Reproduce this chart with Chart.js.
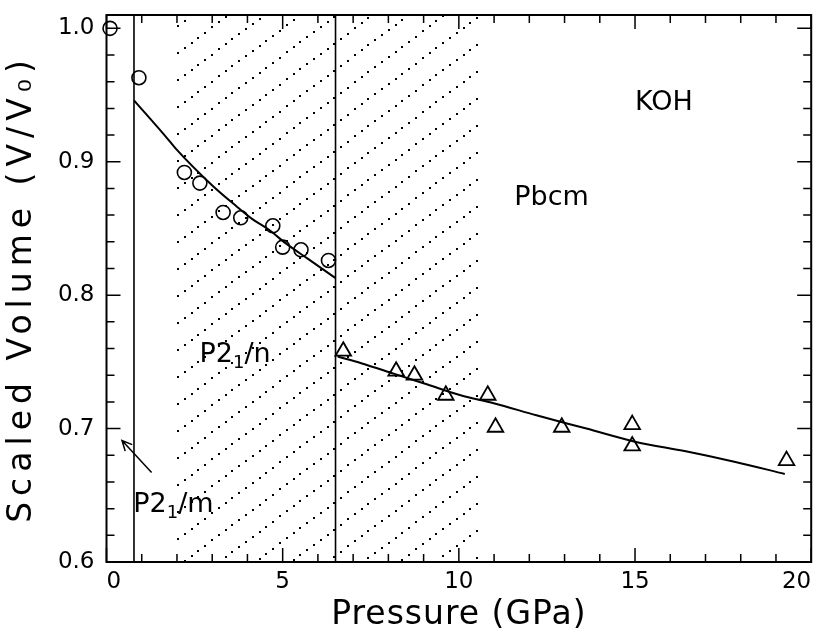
<!DOCTYPE html>
<html>
<head>
<meta charset="utf-8">
<script src="https://cdn.jsdelivr.net/npm/chart.js@4.4.1/dist/chart.umd.min.js"></script>
<style>
html, body { margin: 0; padding: 0; background: #fff; }
</style>
</head>
<body>
<canvas id="chart_koh" width="822" height="635"></canvas>
<script>
// measured points, P2_1/n (circles) and Pbcm (triangles)
var p21n_pressure = [0.1, 0.92, 2.21, 2.65, 3.31, 3.81, 4.72, 5.0, 5.52, 6.3];
var p21n_volume   = [1.0, 0.963, 0.892, 0.884, 0.862, 0.858, 0.852, 0.836, 0.834, 0.826];
var pbcm_pressure = [6.72, 8.22, 8.74, 9.63, 10.82, 11.04, 12.92, 14.92, 14.92, 19.3];
var pbcm_volume   = [0.758, 0.743, 0.740, 0.725, 0.725, 0.701, 0.701, 0.703, 0.687, 0.676];

// fitted curves
var fit1_pressure = [0.78, 1.74, 1.96, 3.01, 3.67, 4.14, 4.61, 5.08, 5.73, 6.49];
var fit1_volume   = [0.946, 0.917, 0.910, 0.882, 0.867, 0.857, 0.849, 0.839, 0.827, 0.813];
var fit2_pressure = [6.56, 7.23, 8.17, 9.11, 10.05, 10.99, 12.2, 13.62, 15.03, 16.44, 17.85, 19.25];
var fit2_volume   = [0.754, 0.749, 0.741, 0.733, 0.725, 0.719, 0.710, 0.700, 0.690, 0.683, 0.675, 0.666];

// phase boundaries and the hatched (mixed) region
var boundaries = [0.78, 6.5];
var hatch_range = [2.0, 10.7];

var x_range = [0, 20];
var y_range = [0.6, 1.01];
var x_tick_values = [0, 5, 10, 15, 20];
var x_tick_labels = ['0', '5', '10', '15', '20'];
var y_tick_values = [0.6, 0.7, 0.8, 0.9, 1.0];
var y_tick_labels = ['0.6', '0.7', '0.8', '0.9', '1.0'];

var FONT = '"DejaVu Sans", sans-serif';

function pts(xs, ys) {
	return xs.map(function(x, i){ return {x: x, y: ys[i]}; });
}
function majorIndex(list, v) {
	for (var i = 0; i < list.length; i++) {
		if (Math.abs(list[i] - v) < 1e-6) return i;
	}
	return -1;
}

// dotted diagonal hatching between the two pressures of hatch_range
var hatchRegion = {
	id: 'hatchRegion',
	beforeDatasetsDraw: function(chart) {
		var ctx = chart.ctx, a = chart.chartArea;
		var xs = chart.scales.x;
		var xl = xs.getPixelForValue(hatch_range[0]);
		var xr = xs.getPixelForValue(hatch_range[1]);
		var w = xr - xl, gap = 27, step = 8.5;
		var ang = Math.atan(0.75), dx = Math.cos(ang) * step, dy = Math.sin(ang) * step;
		ctx.save();
		ctx.fillStyle = '#000';
		for (var y0 = a.top + 11; y0 < a.bottom + 0.75 * w + gap; y0 += gap) {
			for (var x = xl + 1, y = y0; x <= xr; x += dx, y -= dy) {
				if (y < a.top + 1 || y > a.bottom - 1) continue;
				ctx.fillRect(Math.round(x) - 1, Math.round(y) - 1, 2, 2);
			}
		}
		ctx.restore();
	}
};

// letter spaced axis titles
var spacedTitles = {
	id: 'spacedTitles',
	beforeDraw: function(chart) {
		[['x', 1], ['y', 6]].forEach(function(s){
			var sc = chart.scales[s[0]];
			if (sc._spaced) return;
			var orig = sc.drawTitle;
			sc.drawTitle = function() {
				var c = this.ctx, prev = c.letterSpacing;
				c.letterSpacing = s[1] + 'px';
				orig.apply(this, arguments);
				c.letterSpacing = prev;
			};
			sc._spaced = true;
		});
	}
};

var frameTicks = {
	id: 'frameTicks',
	afterDraw: function(chart) {
		var ctx = chart.ctx, a = chart.chartArea;
		var xs = chart.scales.x, ys = chart.scales.y;
		ctx.save();
		ctx.strokeStyle = '#000';
		ctx.lineWidth = 1.5;
		ctx.beginPath();
		xs.ticks.forEach(function(t){
			var px = xs.getPixelForValue(t.value);
			var len = majorIndex(x_tick_values, t.value) >= 0 ? 14 : 8;
			ctx.moveTo(px, a.bottom); ctx.lineTo(px, a.bottom - len);
			ctx.moveTo(px, a.top); ctx.lineTo(px, a.top + len);
		});
		ys.ticks.forEach(function(t){
			var py = ys.getPixelForValue(t.value);
			var len = majorIndex(y_tick_values, t.value) >= 0 ? 14 : 8;
			ctx.moveTo(a.left, py); ctx.lineTo(a.left + len, py);
			ctx.moveTo(a.right, py); ctx.lineTo(a.right - len, py);
		});
		ctx.stroke();
		ctx.lineWidth = 2;
		ctx.strokeRect(a.left, a.top, a.right - a.left, a.bottom - a.top);
		ctx.restore();
	}
};

// text with subscripts, centred on (cx, cy)
function drawRich(ctx, parts, cx, cy, size) {
	var subSize = Math.round(size * 0.65);
	var w = 0;
	parts.forEach(function(p){
		ctx.font = (p.sub ? subSize : size) + 'px ' + FONT;
		p.w = ctx.measureText(p.t).width;
		w += p.w;
	});
	var x = cx - w / 2, base = cy + size * 0.365;
	ctx.textBaseline = 'alphabetic';
	ctx.textAlign = 'left';
	parts.forEach(function(p){
		ctx.font = (p.sub ? subSize : size) + 'px ' + FONT;
		ctx.fillText(p.t, x, p.sub ? base + size * 0.22 : base);
		x += p.w;
	});
}

var phaseLabels = {
	id: 'phaseLabels',
	afterDatasetsDraw: function(chart) {
		var ctx = chart.ctx;
		var xs = chart.scales.x, ys = chart.scales.y;
		ctx.save();
		ctx.fillStyle = '#000';
		drawRich(ctx, [{t: 'KOH'}], xs.getPixelForValue(15.82), ys.getPixelForValue(0.946), 27);
		drawRich(ctx, [{t: 'Pbcm'}], xs.getPixelForValue(12.63), ys.getPixelForValue(0.875), 27);
		drawRich(ctx, [{t: 'P2'}, {t: '1', sub: true}, {t: '/n'}], xs.getPixelForValue(3.65), ys.getPixelForValue(0.757), 27);
		drawRich(ctx, [{t: 'P2'}, {t: '1', sub: true}, {t: '/m'}], xs.getPixelForValue(1.9), ys.getPixelForValue(0.645), 27);

		// arrow pointing at the P2_1/m sliver
		var x0 = xs.getPixelForValue(1.28), y0 = ys.getPixelForValue(0.667);
		var x1 = xs.getPixelForValue(0.44), y1 = ys.getPixelForValue(0.691);
		var ang = Math.atan2(y1 - y0, x1 - x0);
		ctx.strokeStyle = '#000';
		ctx.lineWidth = 1.5;
		ctx.beginPath();
		ctx.moveTo(x0, y0); ctx.lineTo(x1, y1);
		ctx.moveTo(x1 - 11 * Math.cos(ang - 0.45), y1 - 11 * Math.sin(ang - 0.45));
		ctx.lineTo(x1, y1);
		ctx.lineTo(x1 - 11 * Math.cos(ang + 0.45), y1 - 11 * Math.sin(ang + 0.45));
		ctx.stroke();
		ctx.restore();
	}
};

var lineStyle = {showLine: true, pointRadius: 0, borderColor: '#000', borderWidth: 2, fill: false};

window.kohChart = new Chart(document.getElementById('chart_koh'), {
	type: 'scatter',
	data: {
		datasets: [
			{
				label: 'P2_1/n data',
				data: pts(p21n_pressure, p21n_volume),
				pointStyle: 'circle',
				pointRadius: 7,
				pointBorderWidth: 1.6,
				borderColor: '#000',
				backgroundColor: 'rgba(0,0,0,0)',
				clip: false
			},
			{
				label: 'Pbcm data',
				data: pts(pbcm_pressure, pbcm_volume),
				pointStyle: 'triangle',
				pointRadius: 9,
				pointBorderWidth: 1.8,
				borderColor: '#000',
				backgroundColor: 'rgba(0,0,0,0)'
			},
			Object.assign({label: 'fit 1', data: pts(fit1_pressure, fit1_volume), cubicInterpolationMode: 'monotone'}, lineStyle),
			Object.assign({label: 'fit 2', data: pts(fit2_pressure, fit2_volume), cubicInterpolationMode: 'monotone'}, lineStyle),
			Object.assign({}, lineStyle, {label: 'boundary 1', borderWidth: 1.6,
				data: [{x: boundaries[0], y: y_range[0]}, {x: boundaries[0], y: y_range[1]}]}),
			Object.assign({}, lineStyle, {label: 'boundary 2', borderWidth: 1.6,
				data: [{x: boundaries[1], y: y_range[0]}, {x: boundaries[1], y: y_range[1]}]})
		]
	},
	options: {
		responsive: false,
		animation: false,
		layout: { padding: { left: 0, right: 5, top: 15, bottom: 0 } },
		plugins: {
			legend: { display: false },
			tooltip: { enabled: false }
		},
		scales: {
			x: {
				type: 'linear',
				min: x_range[0],
				max: x_range[1],
				grid: { display: false, drawTicks: false },
				border: { display: false },
				ticks: {
					stepSize: 1,
					autoSkip: false,
					maxRotation: 0,
					align: 'inner',
					padding: 6,
					color: '#000',
					font: { family: FONT, size: 23 },
					callback: function(v) {
						var i = majorIndex(x_tick_values, v);
						return i >= 0 ? x_tick_labels[i] : '';
					}
				},
				title: {
					display: true,
					text: 'Pressure (GPa)',
					color: '#000',
					font: { family: FONT, size: 33 },
					padding: { top: 0, bottom: 0 }
				},
				afterFit: function(s) { s.height = 73; s.paddingLeft = 0; s.paddingRight = 0; }
			},
			y: {
				type: 'linear',
				min: y_range[0],
				max: y_range[1],
				grid: { display: false, drawTicks: false },
				border: { display: false },
				ticks: {
					stepSize: 0.02,
					includeBounds: false,
					autoSkip: false,
					padding: 12,
					color: '#000',
					font: { family: FONT, size: 23 },
					callback: function(v) {
						var i = majorIndex(y_tick_values, v);
						return i >= 0 ? y_tick_labels[i] : '';
					}
				},
				title: {
					display: true,
					text: 'Scaled Volume (V/V\u2080)',
					color: '#000',
					font: { family: FONT, size: 33 },
					padding: { top: 3, bottom: 0 }
				},
				afterFit: function(s) { s.width = 106.5; s.paddingTop = 0; s.paddingBottom = 0; }
			}
		}
	},
	plugins: [spacedTitles, hatchRegion, frameTicks, phaseLabels]
});
</script>
</body>
</html>
